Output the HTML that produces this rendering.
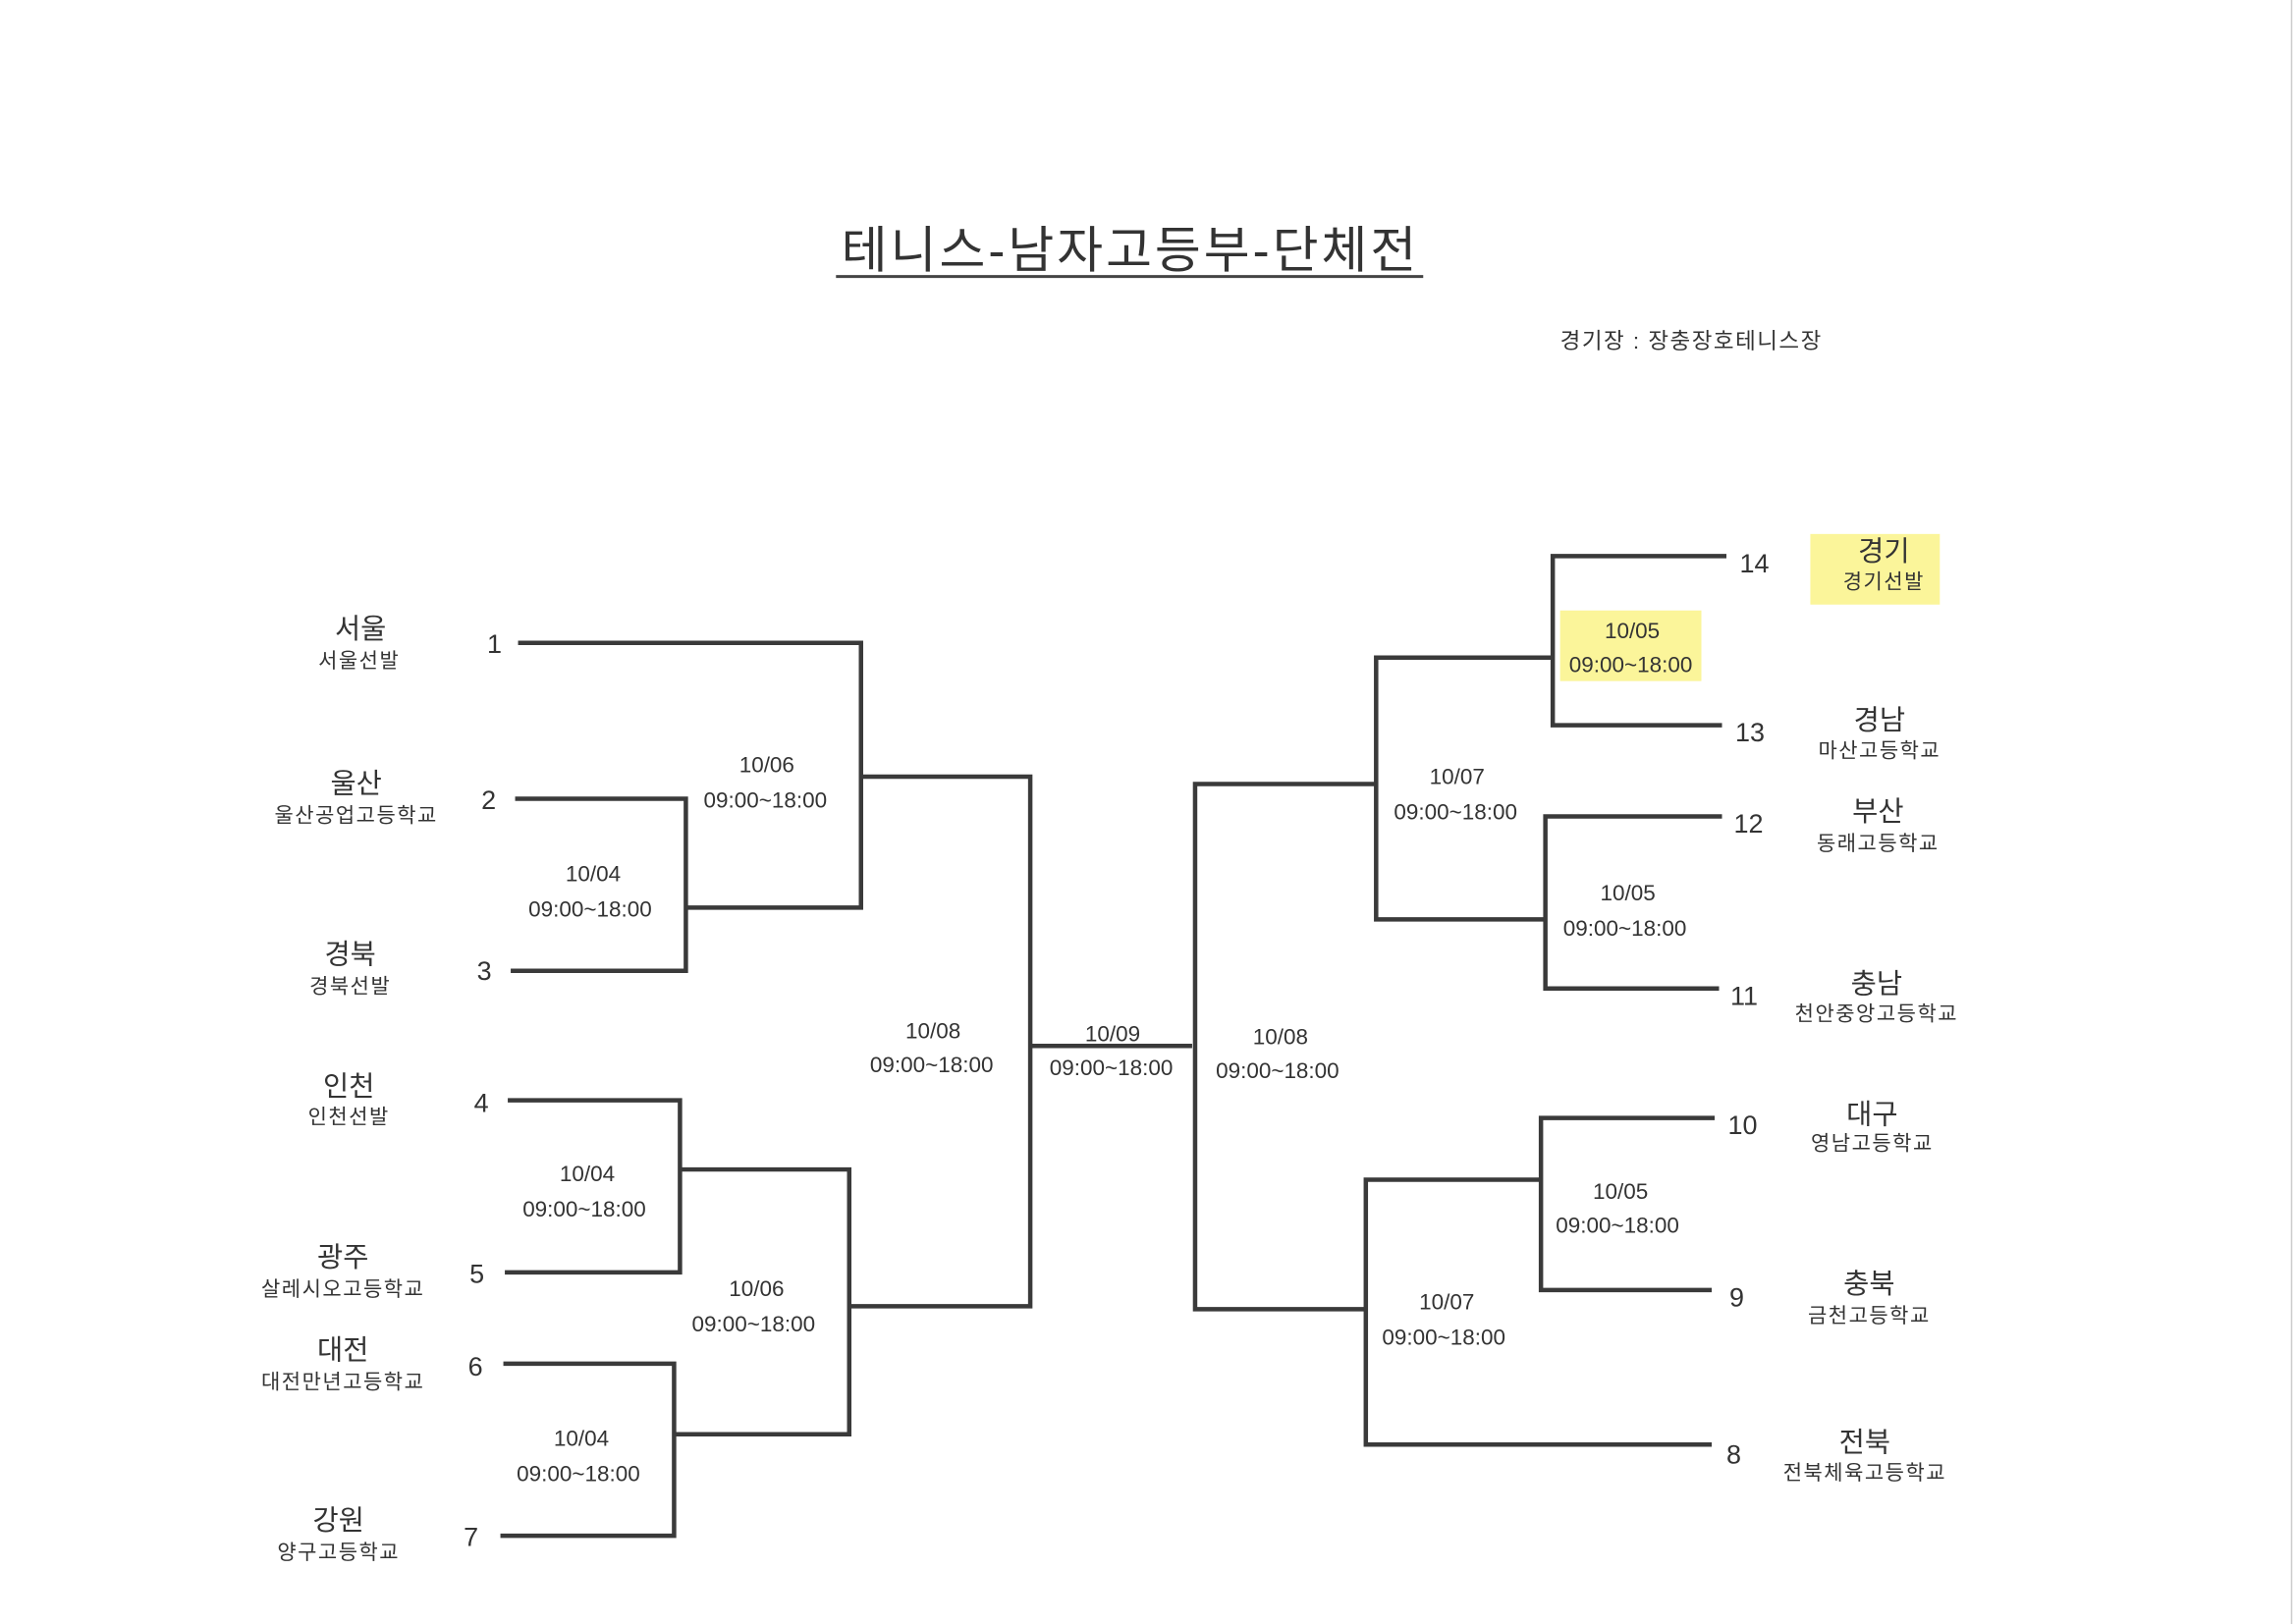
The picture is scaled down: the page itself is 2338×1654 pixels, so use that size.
<!DOCTYPE html>
<html><head><meta charset="utf-8"><style>
html,body{margin:0;padding:0;background:#fff;}
svg{display:block;}
text{font-family:"Liberation Sans","Noto Sans CJK KR","NanumGothic",sans-serif;fill:#333;}
</style></head><body>
<svg width="2338" height="1654" viewBox="0 0 1560 1104" preserveAspectRatio="none" xmlns="http://www.w3.org/2000/svg">
<rect width="1560" height="1104" fill="#fff"/>
<line x1="1557" y1="0" x2="1557" y2="1104" stroke="#ccc" stroke-width="1"/>
<text x="768" y="182" font-size="34" text-anchor="middle" fill="#444" letter-spacing="2">테니스-남자고등부-단체전</text>
<line x1="568" y1="188" x2="967" y2="188" stroke="#444" stroke-width="2"/>
<text x="1060" y="237" font-size="15" letter-spacing="1">경기장  :  장충장호테니스장</text>
<rect x="1230" y="363" width="88" height="48" fill="#fbf59a"/>
<rect x="1060" y="415" width="96" height="48" fill="#fbf59a"/>
<g stroke="#3a3a3a" stroke-width="3" fill="none">
<path d="M352 437H585V617H466"/>
<path d="M350 543H466V660H347"/>
<path d="M585 528H700V888H577"/>
<path d="M345 748H462V865H343"/>
<path d="M462 795H577V975H458"/>
<path d="M342 927H458V1044H340"/>
<path d="M700 711H810"/>
<path d="M1173 378H1055V493H1170"/>
<path d="M1055 447H935V625H1050"/>
<path d="M1170 555H1050V672H1168"/>
<path d="M935 533H812V890H928"/>
<path d="M1165 760H1047V877H1163"/>
<path d="M1047 802H928V982H1163"/>
</g>
<g font-size="19" text-anchor="middle">
<text x="245" y="434">서울</text><text x="242" y="539">울산</text><text x="238" y="655">경북</text>
<text x="237" y="745">인천</text><text x="233" y="861">광주</text><text x="233" y="924">대전</text><text x="230" y="1040">강원</text>
<text x="1280" y="381">경기</text><text x="1277" y="496">경남</text><text x="1276" y="558">부산</text>
<text x="1275" y="675">충남</text><text x="1272" y="764">대구</text><text x="1270" y="879">충북</text><text x="1267" y="987">전북</text>
</g>
<g font-size="14" text-anchor="middle" letter-spacing="1">
<text x="244" y="454">서울선발</text><text x="242" y="559">울산공업고등학교</text><text x="238" y="675">경북선발</text>
<text x="237" y="764">인천선발</text><text x="233" y="881">살레시오고등학교</text><text x="233" y="944">대전만년고등학교</text><text x="230" y="1060">양구고등학교</text>
<text x="1280" y="400">경기선발</text><text x="1277" y="515">마산고등학교</text><text x="1276" y="578">동래고등학교</text>
<text x="1275" y="694">천안중앙고등학교</text><text x="1272" y="782">영남고등학교</text><text x="1270" y="899">금천고등학교</text><text x="1267" y="1006">전북체육고등학교</text>
</g>
<g font-size="18" text-anchor="middle">
<text x="336" y="444">1</text><text x="332" y="550">2</text><text x="329" y="666">3</text><text x="327" y="756">4</text>
<text x="324" y="872">5</text><text x="323" y="935">6</text><text x="320" y="1051">7</text>
<text x="1192" y="389">14</text><text x="1189" y="504">13</text><text x="1188" y="566">12</text><text x="1185" y="683">11</text>
<text x="1184" y="771">10</text><text x="1180" y="888">9</text><text x="1178" y="995">8</text>
</g>
<g font-size="15" text-anchor="middle">
<text x="521" y="525">10/06</text><text x="520" y="549">09:00~18:00</text>
<text x="403" y="599">10/04</text><text x="401" y="623">09:00~18:00</text>
<text x="399" y="803">10/04</text><text x="397" y="827">09:00~18:00</text>
<text x="514" y="881">10/06</text><text x="512" y="905">09:00~18:00</text>
<text x="395" y="983">10/04</text><text x="393" y="1007">09:00~18:00</text>
<text x="634" y="706">10/08</text><text x="633" y="729">09:00~18:00</text>
<text x="756" y="708">10/09</text><text x="755" y="731">09:00~18:00</text>
<text x="870" y="710">10/08</text><text x="868" y="733">09:00~18:00</text>
<text x="1109" y="434">10/05</text><text x="1108" y="457">09:00~18:00</text>
<text x="990" y="533">10/07</text><text x="989" y="557">09:00~18:00</text>
<text x="1106" y="612">10/05</text><text x="1104" y="636">09:00~18:00</text>
<text x="1101" y="815">10/05</text><text x="1099" y="838">09:00~18:00</text>
<text x="983" y="890">10/07</text><text x="981" y="914">09:00~18:00</text>
</g>
</svg>
</body></html>
